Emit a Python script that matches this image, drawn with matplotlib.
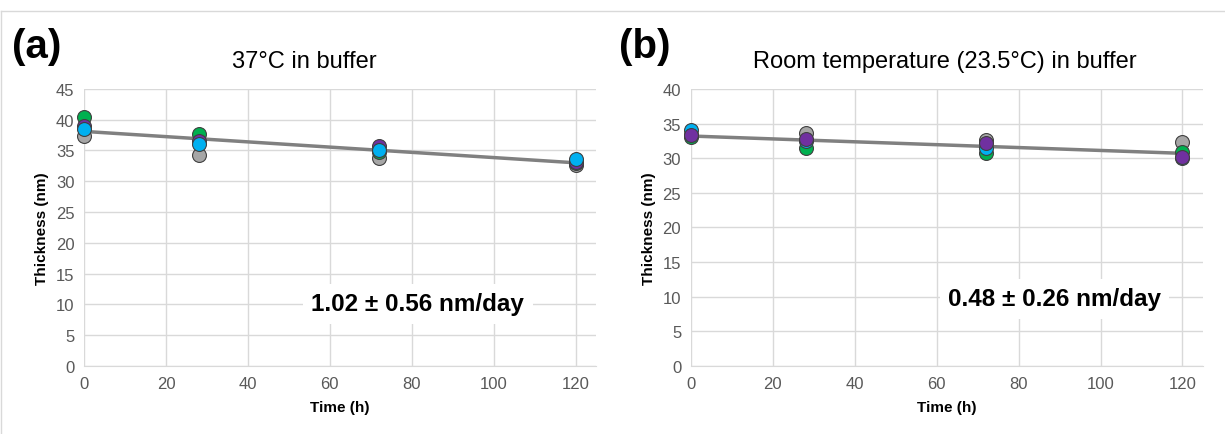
import matplotlib.pyplot as plt
from matplotlib.lines import Line2D

# time points (h)
time_h = [0, 28, 72, 120]

# panel (a): 37 C in buffer, thickness (nm)
a_gray = [37.3, 34.3, 33.7, 32.6]
a_green = [40.5, 37.7, 34.8, 33.0]
a_purple = [39.0, 36.5, 35.8, 33.2]
a_blue = [38.5, 36.0, 35.1, 33.6]
a_trend = [38.1, 33.0]

# panel (b): room temperature, thickness (nm)
b_gray = [33.3, 33.7, 32.6, 32.4]
b_green = [33.1, 31.5, 30.8, 30.9]
b_blue = [34.0, 32.5, 31.5, 30.0]
b_purple = [33.4, 32.8, 32.2, 30.2]
b_trend = [33.2, 30.7]

colors = {"gray": "#A6A6A6", "green": "#00B050", "purple": "#7030A0", "blue": "#00B0F0"}

fig = plt.figure(figsize=(12.25, 4.35), dpi=100)
plt.rcParams['font.family'] = ['Liberation Sans', 'DejaVu Sans']

def panel(rect, series, trend, ymax, title, title_x, letter, rate, rate_xy):
    ax = fig.add_axes(rect)
    ax.set_xlim(0, 125)
    ax.set_ylim(0, ymax)
    ax.set_xticks(range(0, 121, 20))
    ax.set_yticks(range(0, ymax + 1, 5))
    ax.grid(True, color="#D9D9D9", lw=1)
    ax.set_axisbelow(True)
    for s in ["top", "right", "left"]:
        ax.spines[s].set_visible(False)
    ax.spines["bottom"].set_color("#D9D9D9")
    ax.tick_params(length=0, labelsize=12, labelcolor="#595959", pad=7)
    ax.plot([0, 120], trend, color="#808080", lw=2.5, zorder=2)
    for name, vals in series:
        ax.scatter(time_h, vals, s=100, color=colors[name], edgecolors="#404040",
                   linewidths=0.8, zorder=3, clip_on=False)
    ax.set_xlabel("Time (h)", fontsize=11, fontweight="bold", labelpad=7)
    ax.set_ylabel("Thickness (nm)", fontsize=11, fontweight="bold", labelpad=5)
    ax.set_title(title, fontsize=17, pad=16, x=title_x)
    ax.text(rate_xy[0], rate_xy[1], rate, fontsize=17.5, fontweight="bold", ha="center", va="center",
            bbox=dict(facecolor="white", edgecolor="none", pad=6), zorder=4)
    ax.text(-0.14, 1.155, letter, transform=ax.transAxes, fontsize=29, fontweight="bold",
            ha="left", va="center")
    return ax

panel([0.0686, 0.1563, 0.418, 0.637],
      [("gray", a_gray), ("green", a_green), ("purple", a_purple), ("blue", a_blue)],
      a_trend, 45, "37°C in buffer", 0.43, "(a)", "1.02 ± 0.56 nm/day", (81.5, 10.1))
panel([0.564, 0.1563, 0.418, 0.637],
      [("gray", b_gray), ("green", b_green), ("blue", b_blue), ("purple", b_purple)],
      b_trend, 40, "Room temperature (23.5°C) in buffer", 0.495, "(b)", "0.48 ± 0.26 nm/day", (88.8, 9.7))

# light frame around the figure (top and left edge)
fig.add_artist(Line2D([0.001, 1.0], [1 - 12 / 435, 1 - 12 / 435], color="#D9D9D9", lw=1))
fig.add_artist(Line2D([0.001, 0.001], [0, 1 - 12 / 435], color="#D9D9D9", lw=1))

fig.savefig("out.png", dpi=100)
